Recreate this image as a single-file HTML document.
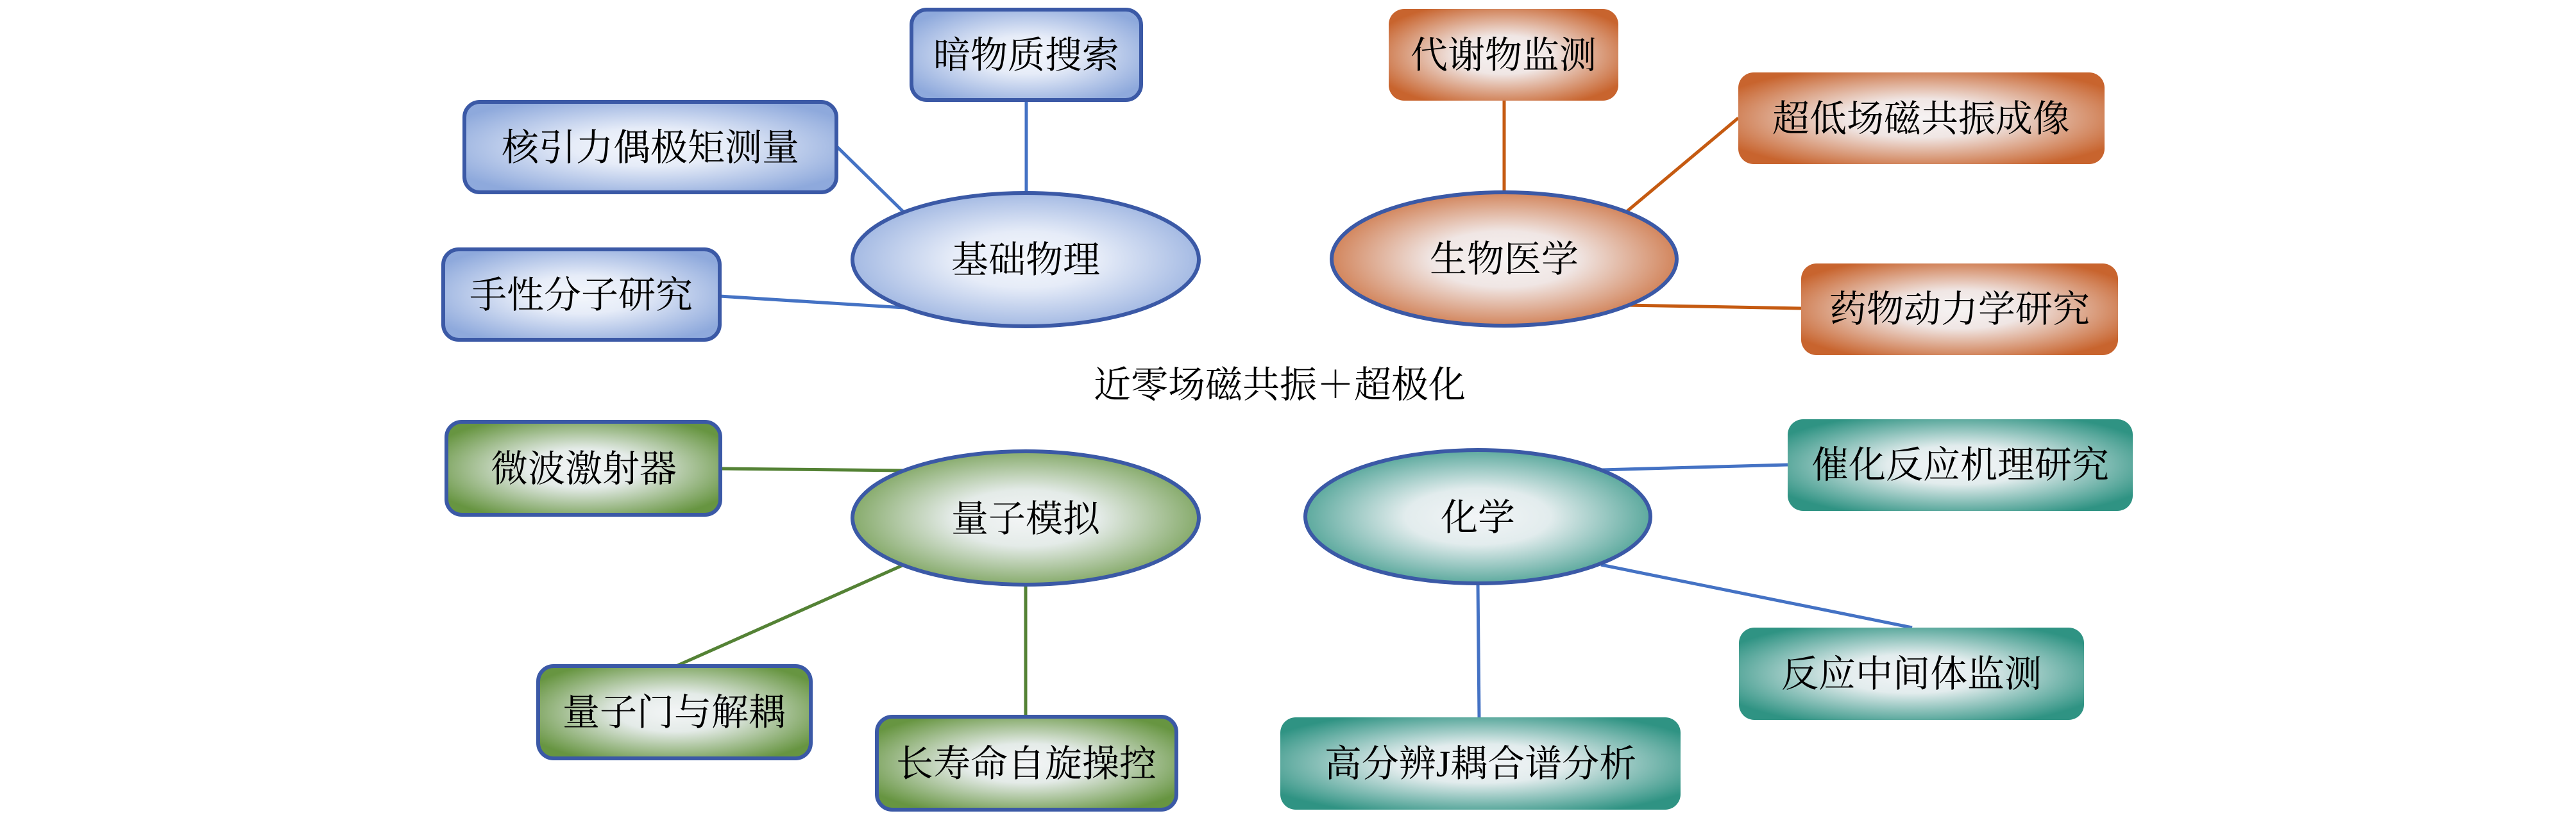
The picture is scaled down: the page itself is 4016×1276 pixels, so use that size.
<!DOCTYPE html>
<html><head><meta charset="utf-8"><style>
html,body{margin:0;padding:0;background:#fff;}
svg{display:block;}
text{font-family:"Liberation Serif","Noto Serif CJK SC",serif;font-size:58px;fill:#000;text-anchor:middle;}
</style></head><body>
<svg width="4016" height="1276" viewBox="0 0 4016 1276" xmlns="http://www.w3.org/2000/svg">
<defs>
<radialGradient id="gb" cx="50%" cy="50%" r="60%"><stop offset="0" stop-color="#f4f7fc"/><stop offset="0.35" stop-color="#e6ecf8"/><stop offset="1" stop-color="#8ea9dc"/></radialGradient>
<radialGradient id="go" cx="50%" cy="50%" r="60%"><stop offset="0" stop-color="#f6f3f3"/><stop offset="0.35" stop-color="#f0e6e4"/><stop offset="1" stop-color="#c8642e"/></radialGradient>
<radialGradient id="gg" cx="50%" cy="50%" r="60%"><stop offset="0" stop-color="#f3f5f6"/><stop offset="0.35" stop-color="#e4ebe8"/><stop offset="1" stop-color="#679541"/></radialGradient>
<radialGradient id="gt" cx="50%" cy="50%" r="60%"><stop offset="0" stop-color="#f3f5f7"/><stop offset="0.35" stop-color="#e2eced"/><stop offset="1" stop-color="#2f9383"/></radialGradient>
</defs>
<g fill="none" stroke-width="5">
<g stroke="#4472c4">
<line x1="1600" y1="157" x2="1600" y2="302"/>
<line x1="1304" y1="228" x2="1410" y2="332"/>
<line x1="1122" y1="462" x2="1410" y2="480"/>
<line x1="2787" y1="725" x2="2496" y2="733"/>
<line x1="2496" y1="881" x2="2981" y2="979"/>
<line x1="2304" y1="910" x2="2306" y2="1119"/>
</g>
<g stroke="#c55a11">
<line x1="2345" y1="157" x2="2345" y2="299"/>
<line x1="2710" y1="184" x2="2536" y2="330"/>
<line x1="2536" y1="476" x2="2808" y2="481"/>
</g>
<g stroke="#548235">
<line x1="1123" y1="731" x2="1410" y2="734"/>
<line x1="1054" y1="1039" x2="1409" y2="881"/>
<line x1="1599" y1="912" x2="1599" y2="1118"/>
</g>
</g>
<g stroke="#3b59a6" stroke-width="6">
<rect x="1421" y="15" width="358" height="141" rx="24" fill="url(#gb)"/>
<rect x="724" y="159" width="580" height="141" rx="24" fill="url(#gb)"/>
<rect x="691" y="389" width="431" height="141" rx="24" fill="url(#gb)"/>
<ellipse cx="1599" cy="405" rx="270" ry="104" fill="url(#gb)"/>
<ellipse cx="2345" cy="404" rx="269" ry="104" fill="url(#go)"/>
<rect x="696" y="658" width="427" height="145" rx="24" fill="url(#gg)"/>
<rect x="839" y="1039" width="425" height="144" rx="24" fill="url(#gg)"/>
<rect x="1367" y="1118" width="467" height="145" rx="24" fill="url(#gg)"/>
<ellipse cx="1599" cy="808" rx="270" ry="104" fill="url(#gg)"/>
<ellipse cx="2304" cy="806" rx="269" ry="104" fill="url(#gt)"/>
</g>
<rect x="2165" y="14" width="358" height="143" rx="24" fill="url(#go)"/>
<rect x="2710" y="113" width="571" height="143" rx="24" fill="url(#go)"/>
<rect x="2808" y="411" width="494" height="143" rx="24" fill="url(#go)"/>
<rect x="2787" y="654" width="538" height="143" rx="24" fill="url(#gt)"/>
<rect x="2711" y="979" width="538" height="144" rx="24" fill="url(#gt)"/>
<rect x="1996" y="1119" width="624" height="144" rx="24" fill="url(#gt)"/>
<text x="1600" y="106">暗物质搜索</text>
<text x="1014" y="250">核引力偶极矩测量</text>
<text x="906" y="480">手性分子研究</text>
<text x="1599" y="425">基础物理</text>
<text x="2344" y="106">代谢物监测</text>
<text x="2995" y="205">超低场磁共振成像</text>
<text x="3055" y="502">药物动力学研究</text>
<text x="2345" y="424">生物医学</text>
<text x="1995" y="620">近零场磁共振＋超极化</text>
<text x="910" y="751">微波激射器</text>
<text x="1599" y="829">量子模拟</text>
<text x="1051" y="1131">量子门与解耦</text>
<text x="1600" y="1211">长寿命自旋操控</text>
<text x="3056" y="745">催化反应机理研究</text>
<text x="2304" y="827">化学</text>
<text x="2980" y="1071">反应中间体监测</text>
<text x="2308" y="1211">高分辨J耦合谱分析</text>
</svg>
</body></html>
